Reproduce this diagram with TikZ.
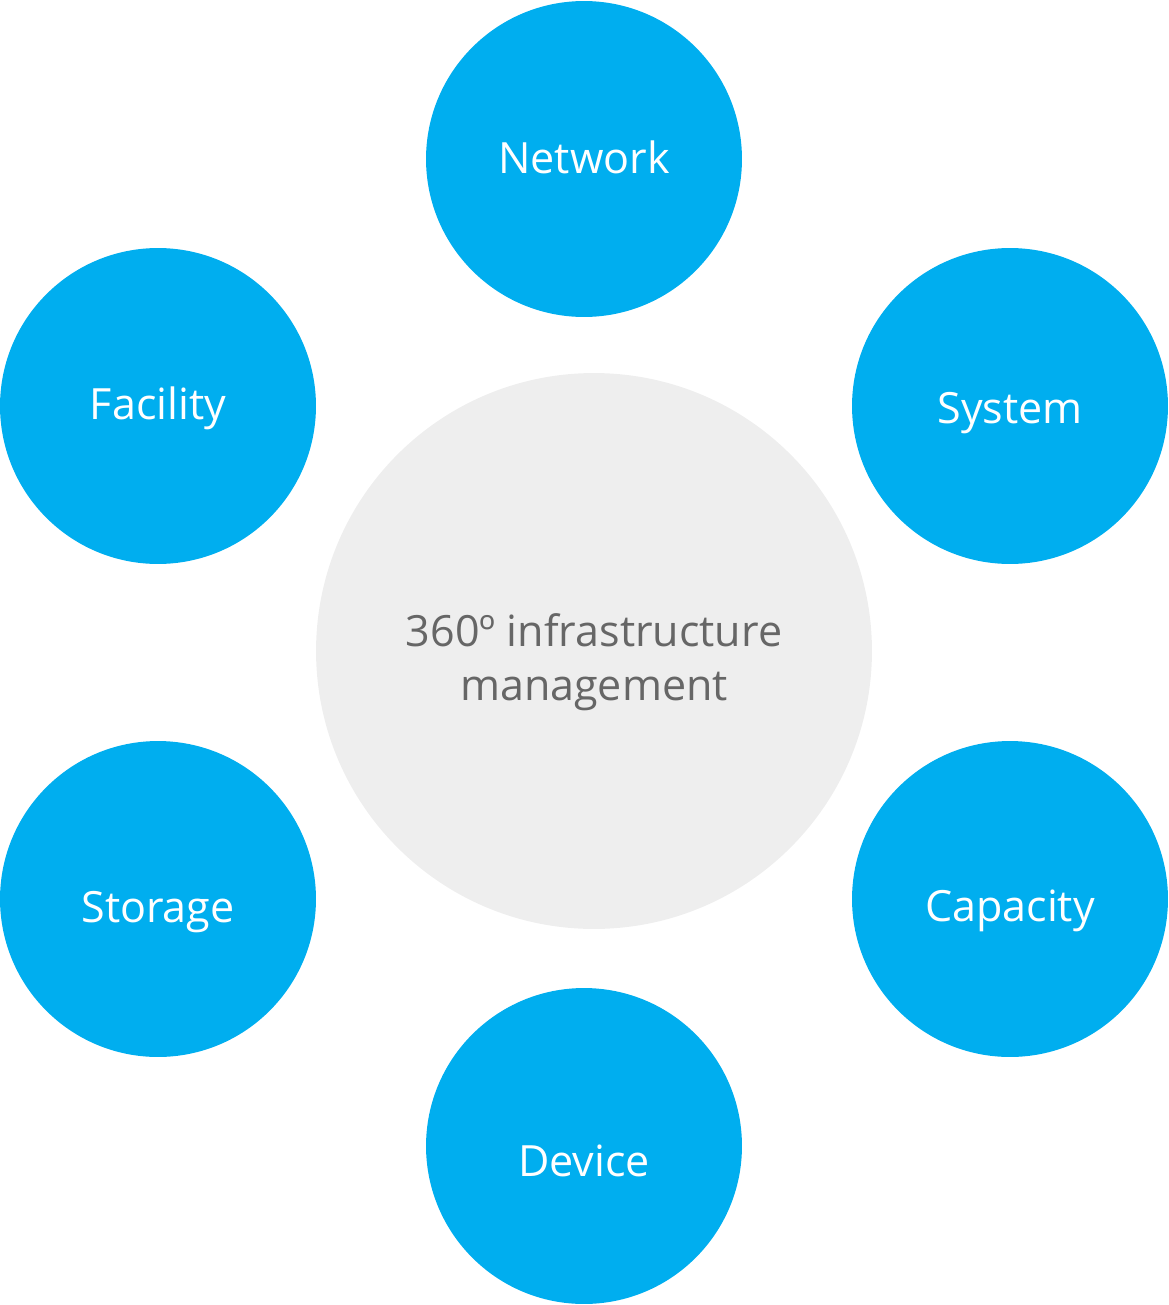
\documentclass[tikz,border=0pt]{standalone}
\usepackage{fontspec}
\setmainfont{Open Sans}
\usepackage{xcolor}
\definecolor{areablue}{HTML}{00AEEF}
\definecolor{hubgrey}{HTML}{EEEEEE}
\definecolor{hubtext}{HTML}{666666}

\begin{document}
\begin{tikzpicture}[x=0.02cm, y=-0.02cm,
  area/.style={circle, inner sep=0pt, minimum size=6.32cm, fill=areablue},
  areatext/.style={text=white, font=\fontsize{24.5}{30}\selectfont},
  hub/.style={circle, inner sep=0pt, minimum size=11.12cm, fill=hubgrey},
  hubtext/.style={text=hubtext, align=center,
    font=\fontsize{24.5}{30.5}\selectfont}
]
\useasboundingbox (0,0) rectangle (1169,1305);
\node[hub, label={[hubtext, yshift=-0.22cm]center:360º infrastructure\\management}] (hub) at (594,651) {};
\node[area, label={[areatext, yshift=0.04cm]center:Network}]   (network)  at (584, 159) {};
\node[area, label={[areatext, yshift=-0.04cm]center:Facility}] (facility) at (158, 406) {};
\node[area, label={[areatext, yshift=-0.14cm]center:System}]   (system)   at (1010,406) {};
\node[area, label={[areatext, yshift=-0.26cm]center:Storage}]  (storage)  at (158, 899) {};
\node[area, label={[areatext, yshift=-0.24cm]center:Capacity}] (capacity) at (1010,899) {};
\node[area, label={[areatext, yshift=-0.3cm]center:Device}]    (device)   at (584,1146) {};
\end{tikzpicture}
\end{document}
